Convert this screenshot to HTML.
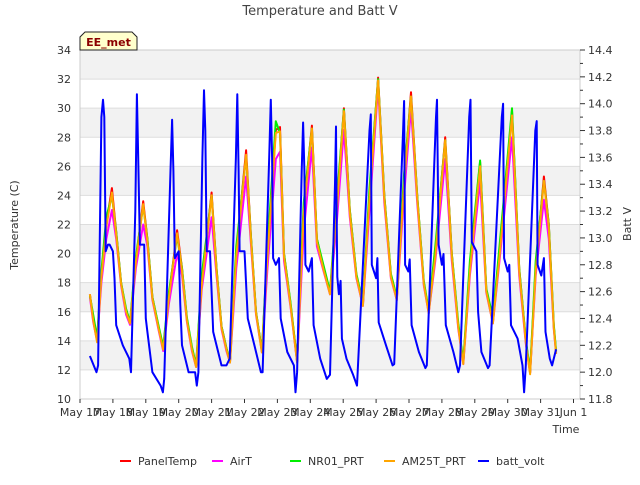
<!DOCTYPE html>
<html><head><meta charset="utf-8"><style>
body{margin:0;background:#fff;font-family:"Liberation Sans","DejaVu Sans",sans-serif}
svg text{font-family:"DejaVu Sans","Liberation Sans",sans-serif}
</style></head><body>
<svg id="chart" width="640" height="480" xmlns="http://www.w3.org/2000/svg">
<rect width="640" height="480" fill="#fff"/>
<g id="bands"></g><g id="grid"></g>
<g id="series" clip-path="url(#clip)"></g>
<defs><clipPath id="clip"><rect x="80" y="50" width="500" height="349"/></clipPath></defs>
<rect x="80" y="50" width="500" height="349" fill="none" stroke="#ccc"/>
<g id="axes"></g>
<text x="320" y="15" text-anchor="middle" font-size="13" fill="#444">Temperature and Batt V</text>
<text transform="translate(18,225) rotate(-90)" text-anchor="middle" font-size="11" fill="#333">Temperature (C)</text>
<text transform="translate(631,224) rotate(-90)" text-anchor="middle" font-size="11" fill="#333">Batt V</text>
<text x="566" y="433" text-anchor="middle" font-size="11" fill="#333">Time</text>
<g>
<path d="M80,50 L80,37 L85,32 L132,32 L137,37 L137,50 Z" fill="#ffffcc" stroke="#222"/>
<text x="108.5" y="46" text-anchor="middle" font-size="11" font-weight="bold" fill="#8b0000">EE_met</text></g>
<g id="legend"></g>
</svg>
<script>
const times=[0.3,0.4,0.52,0.65,0.8,0.97,1.1,1.25,1.4,1.52,1.7,1.92,2.05,2.2,2.4,2.53,2.7,2.95,3.1,3.25,3.4,3.53,3.7,4.0,4.15,4.3,4.45,4.56,4.75,5.05,5.2,5.35,5.53,5.7,5.95,6.08,6.2,6.4,6.6,6.8,7.05,7.2,7.4,7.6,7.8,8.02,8.2,8.4,8.6,8.8,9.06,9.25,9.45,9.63,9.85,10.06,10.25,10.45,10.6,10.8,11.1,11.3,11.5,11.65,11.85,12.16,12.35,12.55,12.75,13.13,13.35,13.55,13.68,13.85,14.1,14.25,14.4,14.47];
const panelTemp=[17.2,15.5,14.0,18.5,22,24.5,21.5,18,16,15.2,19.5,23.6,21,17,14.8,13.5,17,21.6,19,15.5,13.5,12.3,18,24.2,19,15,13.5,12.6,20,27.1,21,16,13.3,20,28.5,28.7,20,16.5,12.6,23,28.8,21,19,17.3,23,30,23,18.5,16.5,24,32.1,24,18.5,16.9,25,31.1,24,18,16,20,28,20,15,12.5,19,26.3,17.5,15.3,20,29.8,19,14,11.8,19,25.3,22,15,13.2];
const airT=[17.0,15.3,14.0,18.0,21,23.0,21.0,17.8,15.8,15.1,19,22.0,20.5,16.8,14.6,13.3,16.5,20.0,18.5,15.3,13.3,12.2,17.5,22.5,18.5,14.8,13.3,12.5,19,25.3,20.5,15.8,13.2,19,26.5,27.0,19.5,16.3,12.5,21.5,27.3,20.5,18.8,17.2,22,28.5,22.5,18.3,16.4,23,31.5,23.5,18.3,16.8,24,30.0,23.5,17.8,15.9,19.5,26.5,19.5,14.8,12.4,18.5,25.0,17.3,15.2,19.5,28.0,18.5,13.8,11.8,18.5,23.7,21,14.8,13.1];
const nr01=[17.1,15.8,14.2,18.8,22.5,24.0,21.5,18,16.2,15.3,19.8,23.3,21,17,14.9,13.6,17.3,21.2,19,15.6,13.6,12.3,18.5,24.0,19,15,13.5,12.6,20.5,26.7,21,16,13.3,20.5,29.1,28.3,20,16.6,12.6,23.5,28.6,21,19.2,17.4,23.5,29.9,23,18.6,16.6,24.5,32.0,24,18.6,17.0,25.5,30.8,24,18.1,16.1,20.5,27.8,20,15.2,12.6,19.5,26.4,17.6,15.6,20.5,30.0,19,14.1,11.9,19.5,25.0,22,15.1,13.3];
const am25t=[17.2,15.4,13.9,18.4,21.8,24.2,21.3,17.9,16,15.2,19.4,23.4,20.8,16.9,14.7,13.4,16.9,21.4,18.8,15.4,13.4,12.2,17.8,24.0,18.8,14.9,13.4,12.5,19.8,26.8,20.8,15.9,13.2,19.8,28.3,28.4,19.8,16.4,12.5,22.8,28.6,20.8,18.9,17.2,22.8,29.8,22.8,18.4,16.4,23.8,31.9,23.8,18.4,16.8,24.8,30.8,23.8,17.9,15.9,19.8,27.8,19.8,14.9,12.4,18.8,26.0,17.4,15.2,19.8,29.5,18.8,13.9,11.7,18.8,25.0,21.8,14.9,13.1];
const battPoints=[
[0.3,12.12],[0.45,12.03],[0.5,12.0],[0.55,12.05],[0.65,13.9],[0.7,14.03],[0.74,13.9],[0.78,12.9],[0.85,12.95],[0.9,12.95],[1.0,12.9],[1.05,12.7],[1.1,12.35],[1.3,12.2],[1.5,12.1],[1.55,12.0],
[1.68,13.2],[1.73,14.07],[1.77,13.6],[1.82,12.95],[1.95,12.95],[2.0,12.4],[2.05,12.3],[2.2,12.0],[2.45,11.9],[2.52,11.85],[2.56,11.95],
[2.75,13.5],[2.8,13.88],[2.84,13.5],[2.88,12.85],[3.0,12.9],[3.05,12.5],[3.1,12.2],[3.3,12.0],[3.5,12.0],[3.55,11.9],[3.6,12.0],
[3.72,13.6],[3.77,14.1],[3.81,13.8],[3.85,12.9],[3.95,12.9],[4.05,12.3],[4.15,12.2],[4.3,12.05],[4.45,12.05],[4.55,12.1],
[4.74,13.6],[4.78,14.07],[4.82,13.5],[4.85,12.9],[5.0,12.9],[5.1,12.4],[5.3,12.2],[5.5,12.0],[5.55,12.0],
[5.75,13.6],[5.8,14.03],[5.84,13.6],[5.87,12.85],[5.95,12.8],[6.05,12.85],[6.1,12.4],[6.3,12.15],[6.5,12.05],[6.55,11.85],[6.6,12.0],
[6.74,13.5],[6.78,13.86],[6.82,13.5],[6.85,12.8],[6.95,12.75],[7.05,12.85],[7.1,12.35],[7.3,12.1],[7.5,11.95],[7.6,11.98],
[7.75,13.4],[7.78,13.83],[7.8,13.2],[7.82,12.71],[7.87,12.58],[7.92,12.68],[7.96,12.25],[8.1,12.1],[8.3,11.98],[8.42,11.9],
[8.8,13.8],[8.84,13.92],[8.87,12.8],[9.0,12.7],[9.04,12.85],[9.08,12.37],[9.3,12.2],[9.5,12.05],[9.55,12.06],
[9.82,13.8],[9.85,14.02],[9.88,12.8],[9.98,12.75],[10.02,12.84],[10.08,12.35],[10.3,12.15],[10.5,12.03],[10.54,12.05],
[10.82,13.9],[10.85,14.03],[10.9,12.95],[11.0,12.8],[11.05,12.88],[11.12,12.35],[11.35,12.15],[11.5,12.0],[11.55,12.05],
[11.83,13.9],[11.87,14.03],[11.91,12.97],[12.05,12.9],[12.1,12.45],[12.2,12.15],[12.4,12.03],[12.45,12.05],
[12.82,13.9],[12.86,14.0],[12.89,12.85],[13.0,12.75],[13.05,12.8],[13.1,12.35],[13.3,12.25],[13.45,12.05],[13.5,11.85],[13.55,12.05],
[13.84,13.8],[13.88,13.87],[13.91,12.8],[14.02,12.72],[14.1,12.85],[14.15,12.3],[14.28,12.1],[14.35,12.05],[14.47,12.17]];
const xLabels=["May 17","May 18","May 19","May 20","May 21","May 22","May 23","May 24","May 25","May 26","May 27","May 28","May 29","May 30","May 31","Jun 1"];
const yTicks=[10,12,14,16,18,20,22,24,26,28,30,32,34];
const y2Ticks=[11.8,12.0,12.2,12.4,12.6,12.8,13.0,13.2,13.4,13.6,13.8,14.0,14.2,14.4];
const NS="http://www.w3.org/2000/svg";
const X=t=>80+t*32.9, Y=v=>399-(v-10)*349/24, Y2=v=>399-(v-11.8)*349/2.6;
function mk(tag,attrs,parent,txt){const e=document.createElementNS(NS,tag);for(const k in attrs)e.setAttribute(k,attrs[k]);if(txt!==undefined)e.textContent=txt;parent.appendChild(e);return e;}
const bands=document.getElementById('bands'),grid=document.getElementById('grid'),axes=document.getElementById('axes'),series=document.getElementById('series'),legend=document.getElementById('legend');
for(let v=12;v<34;v+=4){const r=mk('rect',{x:80,y:Y(v+2),width:500,height:Y(v)-Y(v+2),fill:'#f2f2f2'},bands);

}
yTicks.forEach(v=>{const l=mk('line',{x1:80,x2:580,y1:Y(v),y2:Y(v),stroke:'#ddd'},grid);


const t=mk('text',{x:71,y:Y(v)+4,'text-anchor':'end','font-size':11,fill:'#333'},axes,String(v));

});
y2Ticks.forEach((v,i)=>{mk('line',{x1:580,x2:585,y1:Y2(v),y2:Y2(v),stroke:'#333'},axes);
if(i<y2Ticks.length-1)mk('line',{x1:580,x2:583,y1:Y2(v+0.1),y2:Y2(v+0.1),stroke:'#333'},axes);
const t=mk('text',{x:588,y:Y2(v)+4,'font-size':11,fill:'#333'},axes,v.toFixed(1));

});
xLabels.forEach((s,i)=>{mk('line',{x1:X(i),x2:X(i),y1:399,y2:403,stroke:'#333'},axes);
const t=mk('text',{x:X(i),y:416,'text-anchor':'middle','font-size':11,fill:'#333'},axes,s);

});
function line(ts,vs,yf,color,name){const d=ts.map((t,i)=>(i?'L':'M')+X(t).toFixed(1)+','+yf(vs[i]).toFixed(1)).join('');
const p=mk('path',{d:d,fill:'none',stroke:color,'stroke-width':2,'stroke-linejoin':'round'},series);

}
line(times,panelTemp,Y,'#ff0000','paneltemp-line');
line(times,airT,Y,'#ff00ff','airt-line');
line(times,nr01,Y,'#00ee00','nr01-prt-line');
line(times,am25t,Y,'#ffa500','am25t-prt-line');
line(battPoints.map(p=>p[0]),battPoints.map(p=>p[1]),Y2,'#0000ff','batt-volt-line');
const leg=[['PanelTemp','#ff0000',120],['AirT','#ff00ff',212],['NR01_PRT','#00ee00',290],['AM25T_PRT','#ffa500',384],['batt_volt','#0000ff',478]];
leg.forEach(([n,c,x])=>{const g=mk('g',{},legend);


mk('line',{x1:x,x2:x+11,y1:461,y2:461,stroke:c,'stroke-width':2},g);
mk('text',{x:x+18,y:465,'font-size':11,fill:'#333'},g,n);});
</script>
</body></html>
